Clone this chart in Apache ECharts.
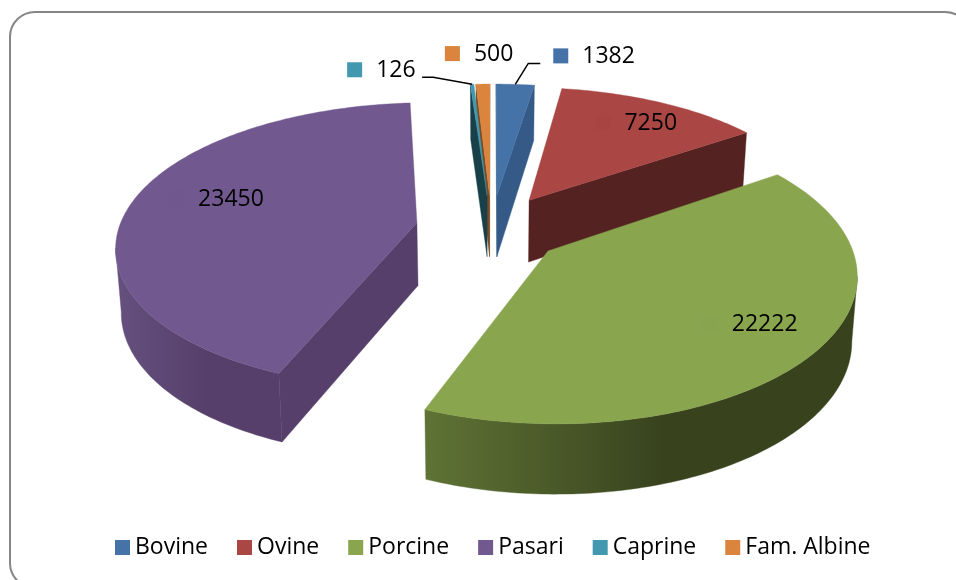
<!DOCTYPE html>
<html>
<head>
<meta charset="utf-8">
<script src="https://cdn.jsdelivr.net/npm/echarts@6/dist/echarts.min.js"></script>
<style>
    html, body { margin: 0; padding: 0; background: #fff; }
    #chart { width: 956px; height: 580px; }
</style>
</head>
<body>
<div id="chart"></div>
<script>
var categories = ['Bovine', 'Ovine', 'Porcine', 'Pasari', 'Caprine', 'Fam. Albine'];
var values = [1382, 7250, 22222, 23450, 126, 500];

var topColors = ['#4572a7', '#aa4643', '#89a54e', '#71588f', '#4198af', '#db843d'];
var cutColors = ['#355a88', '#552222', '#38431e', '#563f6a', '#174049', '#7a4a22'];
var wallStart = ['#355a88', '#552222', '#5f7335', '#65507f', '#174049', '#7a4a22'];
var wallEnd = ['#355a88', '#552222', '#38431e', '#563f6a', '#174049', '#7a4a22'];
var keyColors = ['#4572a7', '#a84543', '#88a44e', '#70578e', '#4198af', '#db843d'];
// back slices are painted first
var paintOrder = [1, 4, 6, 5, 3, 2];
var explode = [0.24, 0.24, 0.24, 0.255, 0.24, 0.24];
// label left edge, relative to the middle of the outer arc
var labelOffset = [[67, -28], [-36, 20.5], [-79, -31], [65, -1.5], [-96, -14], [-9, -30]];
// leader lines, same reference point
var leaders = [[[13, -21], [25, -21]], null, null, null, [[-39, -7], [-50, -7]], null];

var FONT = '23px "Open Sans"';
var total = values.reduce(function (a, b) { return a + b; }, 0);

// pie seen from above with some perspective
var VX = 491.5, VY = 228.5, RX = 298, RY = 144, PX = 0.15, PY = 0.154, DEPTH = 63;

function project(x, y) {
    return [VX + RX * x * (1 + PX * y), VY + RY * y * (1 + PY * y)];
}
function projectBottom(x, y) {
    var p = project(x, y);
    return [VX + (p[0] - VX) * 0.985, p[1] + DEPTH * (1 + 0.1 * y)];
}

function sliceAngles(idx) {
    var before = 0;
    for (var i = 0; i < idx; i++) before += values[i];
    return [before / total * Math.PI * 2, (before + values[idx]) / total * Math.PI * 2];
}

function renderSlice(params, api) {
    var idx = params.seriesIndex;
    var ang = sliceAngles(idx);
    var mid = (ang[0] + ang[1]) / 2;
    var ox = explode[idx] * Math.sin(mid), oy = -explode[idx] * Math.cos(mid);
    var n = Math.max(3, Math.ceil((ang[1] - ang[0]) * 180 / Math.PI));
    var arc = [];
    for (var i = 0; i <= n; i++) {
        var t = ang[0] + (ang[1] - ang[0]) * i / n;
        arc.push([ox + Math.sin(t), oy - Math.cos(t)]);
    }
    var apex = project(ox, oy);
    var apexB = projectBottom(ox, oy);
    var first = arc[0], last = arc[n];
    var children = [];

    function face(points, fill) {
        children.push({ type: 'polygon', shape: { points: points }, style: { fill: fill, stroke: fill, lineWidth: 0.4 } });
    }
    function P(w) { return project(w[0], w[1]); }
    function B(w) { return projectBottom(w[0], w[1]); }

    // cut faces, only the ones turned to the viewer
    if (P(first)[0] < apex[0]) {
        face([apex, P(first), B(first), apexB], cutColors[idx]);
    }
    if (apex[0] < P(last)[0]) {
        face([P(last), apex, apexB, B(last)], cutColors[idx]);
    }

    // outer wall
    var tops = [], bottoms = [];
    for (var j = 0; j < n; j++) {
        if (P(arc[j + 1])[0] < P(arc[j])[0]) {
            if (!tops.length) { tops.push(P(arc[j])); bottoms.push(B(arc[j])); }
            tops.push(P(arc[j + 1]));
            bottoms.push(B(arc[j + 1]));
        }
    }
    if (tops.length > 1) {
        face(tops.concat(bottoms.reverse()), {
            type: 'linear', x: 0, y: 0, x2: 1, y2: 0,
            colorStops: [
                { offset: 0, color: wallStart[idx] },
                { offset: 0.55, color: wallEnd[idx] },
                { offset: 1, color: wallEnd[idx] }
            ]
        });
    }

    // top
    face([apex].concat(arc.map(P)), topColors[idx]);

    // data label
    var anchor = project(ox + Math.sin(mid), oy - Math.cos(mid));
    var lx = anchor[0] + labelOffset[idx][0], ly = anchor[1] + labelOffset[idx][1];
    children.push({
        type: 'rect', z2: 10,
        shape: { x: lx - 29, y: ly - 8, width: 15, height: 15 },
        style: { fill: keyColors[idx] }
    });
    children.push({
        type: 'text', z2: 10,
        style: { text: String(api.value(0)), x: lx, y: ly, font: FONT, fill: '#000', align: 'left', verticalAlign: 'middle' }
    });
    if (leaders[idx]) {
        var line = [anchor];
        leaders[idx].forEach(function (o) { line.push([anchor[0] + o[0], anchor[1] + o[1]]); });
        children.push({
            type: 'polyline', z2: 10,
            shape: { points: line },
            style: { fill: 'none', stroke: '#000', lineWidth: 1.5 }
        });
    }
    return { type: 'group', children: children };
}

var chart = echarts.init(document.getElementById('chart'));
chart.setOption({
    animation: false,
    backgroundColor: '#fff',
    textStyle: { fontFamily: 'Open Sans' },
    legend: {
        left: 110,
        top: 531,
        icon: 'rect',
        itemWidth: 15,
        itemHeight: 15,
        itemGap: 29,
        selectedMode: false,
        textStyle: { fontFamily: 'Open Sans', fontSize: 23, color: '#000' },
        data: categories
    },
    graphic: [{
        type: 'rect',
        z: -10,
        silent: true,
        shape: { x: 10, y: 12, width: 960, height: 576, r: 25 },
        style: { fill: '#fff', stroke: '#868686', lineWidth: 2 }
    }],
    series: categories.map(function (name, i) {
        return {
            type: 'custom',
            name: name,
            coordinateSystem: 'none',
            silent: true,
            z: paintOrder[i],
            itemStyle: { color: topColors[i] },
            renderItem: renderSlice,
            data: [values[i]]
        };
    })
});
</script>
</body>
</html>
